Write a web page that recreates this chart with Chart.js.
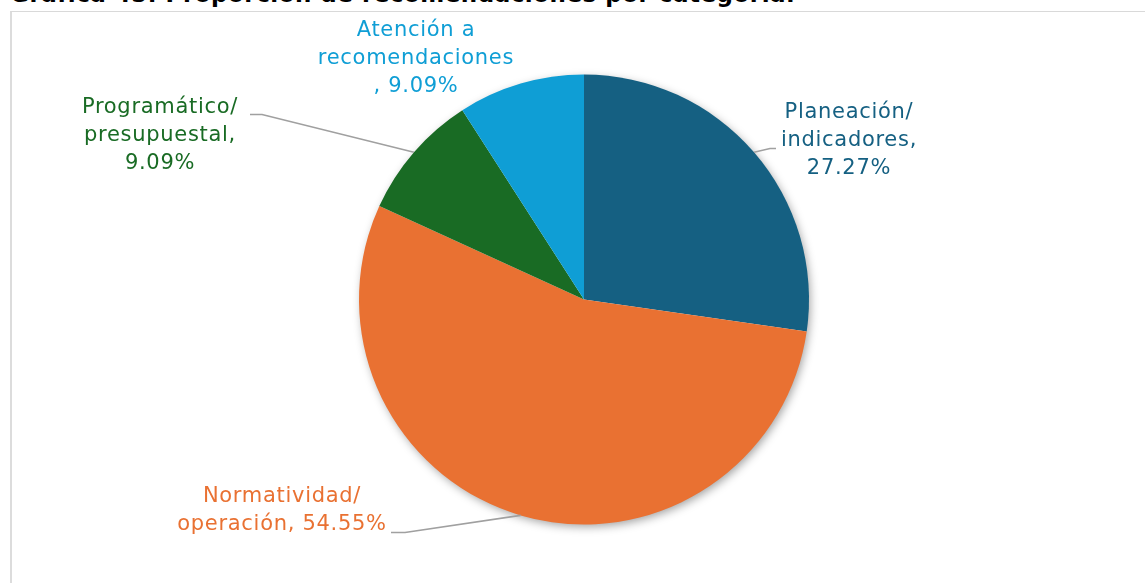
<!DOCTYPE html>
<html>
<head>
<meta charset="utf-8">
<script src="https://cdn.jsdelivr.net/npm/chart.js@4.4.1/dist/chart.umd.min.js"></script>
<style>
  body { margin: 0; background: #fff; overflow: hidden; }
  #title {
    position: absolute; left: 10px; top: -19px; letter-spacing: 0.5px;
    font: bold 23px "DejaVu Sans", sans-serif; color: #000; white-space: nowrap;
  }
  #frame {
    position: absolute; left: 10px; top: 11px; width: 1200px; height: 620px;
    border-top: 1px solid #d9d9d9; border-left: 2px solid #dcdcdc;
  }
  canvas { position: absolute; left: 0; top: 0; }
</style>
</head>
<body>
<div id="title">Gráfica 45. Proporción de recomendaciones por categoría.</div>
<div id="frame"></div>
<canvas id="pieChart" width="1145" height="583"></canvas>
<script>
// data
const categories = ["Planeación/ indicadores", "Normatividad/ operación", "Programático/ presupuestal", "Atención a recomendaciones"];
const counts = [3, 6, 1, 1];
const percentLabels = ["27.27%", "54.55%", "9.09%", "9.09%"];
const sliceColors = ["#156082", "#E97132", "#196B24", "#0F9ED5"];

// how each label is broken into lines and where it sits (relative to pie centre)
const labelLines = [
  ["Planeación/", "indicadores,", percentLabels[0]],
  ["Normatividad/", "operación, " + percentLabels[1]],
  ["Programático/", "presupuestal,", percentLabels[2]],
  ["Atención a", "recomendaciones", ", " + percentLabels[3]]
];
const labelPos = [
  { dx: 265, dy: -159, elbow: { dx: 186, dy: -151 }, end: 192 },
  { dx: -302, dy: 211, elbow: { dx: -179, dy: 233 }, end: -193 },
  { dx: -424, dy: -164, elbow: { dx: -322, dy: -185 }, end: -334 },
  { dx: -168, dy: -241 }
];

// one soft shadow behind the whole pie, not behind every slice
const pieShadow = {
  id: "pieShadow",
  beforeDatasetsDraw(chart) {
    const ctx = chart.ctx;
    const arc = chart.getDatasetMeta(0).data[0];
    if (!arc) return;
    ctx.save();
    ctx.shadowColor = "rgba(0,0,0,0.38)";
    ctx.shadowBlur = 10;
    ctx.shadowOffsetX = 2;
    ctx.shadowOffsetY = 3;
    ctx.fillStyle = "#ffffff";
    ctx.beginPath();
    ctx.arc(arc.x, arc.y, arc.outerRadius - 1, 0, Math.PI * 2);
    ctx.fill();
    ctx.restore();
  }
};

const outsideLabels = {
  id: "outsideLabels",
  afterDatasetsDraw(chart) {
    const ctx = chart.ctx;
    const meta = chart.getDatasetMeta(0);
    ctx.save();
    ctx.font = '21px "DejaVu Sans", sans-serif';
    ctx.letterSpacing = "0.7px";
    ctx.textAlign = "center";
    ctx.textBaseline = "middle";
    meta.data.forEach((arc, i) => {
      const cx = arc.x, cy = arc.y;
      const mid = (arc.startAngle + arc.endAngle) / 2;
      const p = labelPos[i];
      if (p.elbow) {
        const ax = cx + Math.cos(mid) * arc.outerRadius;
        const ay = cy + Math.sin(mid) * arc.outerRadius;
        const ex = cx + p.elbow.dx, ey = cy + p.elbow.dy;
        const endX = cx + p.end;
        ctx.strokeStyle = "#a0a0a0";
        ctx.lineWidth = 1.6;
        ctx.beginPath();
        ctx.moveTo(ax, ay);
        ctx.lineTo(ex, ey);
        ctx.lineTo(endX, ey);
        ctx.stroke();
      }
      ctx.fillStyle = sliceColors[i];
      const lines = labelLines[i];
      const lh = 28;
      const top = cy + p.dy - (lines.length - 1) * lh / 2;
      lines.forEach((t, k) => ctx.fillText(t, cx + p.dx, top + k * lh));
    });
    ctx.restore();
  }
};

new Chart(document.getElementById("pieChart"), {
  type: "pie",
  data: {
    labels: categories,
    datasets: [{
      data: counts,
      backgroundColor: sliceColors,
      borderWidth: 0
    }]
  },
  options: {
    responsive: false,
    animation: false,
    layout: { padding: { top: 74.5, bottom: 58.5, left: 359, right: 336 } },
    plugins: {
      legend: { display: false },
      tooltip: { enabled: false }
    }
  },
  plugins: [pieShadow, outsideLabels]
});
</script>
</body>
</html>
